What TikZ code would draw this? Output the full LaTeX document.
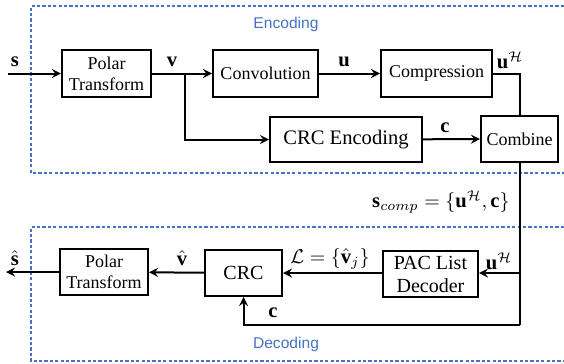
\documentclass[tikz,border=0pt]{standalone}
\usepackage{amsmath}
\usepackage{amssymb}
\usepackage{fontspec}
\setmainfont{Liberation Serif}
\setsansfont{Liberation Sans}
\usepackage{tikz}
\usepackage{xcolor}
\usetikzlibrary{arrows}
\definecolor{dashblue}{RGB}{68,114,196}

\tikzset{
  blk/.style={draw, line width=1pt, align=center, inner sep=0pt, font=\fontsize{9.5}{10.5}\selectfont},
  sig/.style={line width=1pt, -stealth},
  wire/.style={line width=1pt},
  lbl/.style={inner sep=0pt, font=\fontsize{10.3}{12}\selectfont},
  area/.style={draw=dashblue, dash pattern=on 1.6pt off 1.1pt, line width=0.6pt},
  areatxt/.style={text=dashblue, font=\sffamily\fontsize{7.8}{9}\selectfont}
}

\begin{document}
\begin{tikzpicture}[x=0.5pt,y=-0.5pt]
\useasboundingbox (0,0) rectangle (564,364);

% dashed areas
\draw[area] (564,6)--(31,6)--(31,173)--(564,173);
\draw[area] (564,227)--(31,227)--(31,361)--(564,361);
\node[areatxt] (enctxt) at (286,24) {Encoding};
\node[areatxt] (dectxt) at (286,344) {Decoding};

% encoder blocks
\node[blk, minimum width=44.5pt, minimum height=23.5pt, font=\fontsize{9}{10.5}\selectfont] (penc) at (106.5,73.5) {Polar\\Transform};
\node[blk, minimum width=52.5pt, minimum height=23.5pt, font=\fontsize{9}{10}\selectfont] (conv) at (265.5,73.5) {Convolution};
\node[blk, minimum width=55.5pt, minimum height=23.5pt, font=\fontsize{9}{10}\selectfont] (comp) at (436.5,73.5) {Compression};
\node[blk, minimum width=76pt, minimum height=22.5pt, font=\fontsize{10.3}{12}\selectfont] (crcenc) at (346,139.5) {CRC Encoding};
\node[blk, minimum width=38.5pt, minimum height=23pt, font=\fontsize{9}{10}\selectfont] (comb) at (519.5,139) {Combine};

% decoder blocks
\node[blk, minimum width=47.5pt, minimum height=23pt, font=\fontsize{10}{11.5}\selectfont] (pac) at (430.5,274) {PAC List\\Decoder};
\node[blk, minimum width=38.5pt, minimum height=23pt, font=\fontsize{10}{12}\selectfont] (crcdec) at (243.5,273) {CRC};
\node[blk, minimum width=44pt, minimum height=23pt, font=\fontsize{9}{10.5}\selectfont] (pdec) at (104,272) {Polar\\Transform};

% free ends and corners
\coordinate (sin) at (8,73.5);
\coordinate (vsplit) at (185,73.5);
\coordinate (turn) at (519.5,325);
\coordinate (utap) at (519.5,273);
\coordinate (sout) at (6,272);

% encoder connectors
\draw[sig] (sin) -- (penc);
\draw[wire] (penc) -- (vsplit);
\draw[sig] (vsplit) -- (conv);
\draw[sig] (vsplit) |- (crcenc);
\draw[sig] (conv) -- (comp);
\draw[wire] (comp.east) -| (comb.north);
\draw[sig] (crcenc) -- (comb);

% decoder connectors
\draw[wire] (comb.south) -- (turn);
\draw[sig] (utap) -- (pac.east |- utap);
\draw[sig] (turn) -| (crcdec.south);
\draw[sig] (pac.west |- crcdec) -- (crcdec);
\draw[sig] (crcdec) -- (pdec);
\draw[sig] (pdec) -- (sout);

% labels
\node[lbl] (ls) at (15,62) {$\mathbf{s}$};
\node[lbl] (lv) at (172,62) {$\mathbf{v}$};
\node[lbl] (lu) at (344,62) {$\mathbf{u}$};
\node[lbl] (luh) at (510,60) {$\mathbf{u}^{\mathcal{H}}$};
\node[lbl] (lc) at (445,128) {$\mathbf{c}$};
\node[lbl, anchor=east] (lscomp) at (510,202) {$\mathbf{s}_{comp}=\{\mathbf{u}^{\mathcal{H}},\mathbf{c}\}$};
\node[lbl] (luhd) at (499,261) {$\mathbf{u}^{\mathcal{H}}$};
\node[lbl] (lL) at (330,259) {$\mathcal{L}=\{\hat{\mathbf{v}}_j\}$};
\node[lbl] (lvh) at (182,258) {$\hat{\mathbf{v}}$};
\node[lbl] (lsh) at (15,258) {$\hat{\mathbf{s}}$};
\node[lbl] (lcd) at (273,313) {$\mathbf{c}$};
\end{tikzpicture}
\end{document}
